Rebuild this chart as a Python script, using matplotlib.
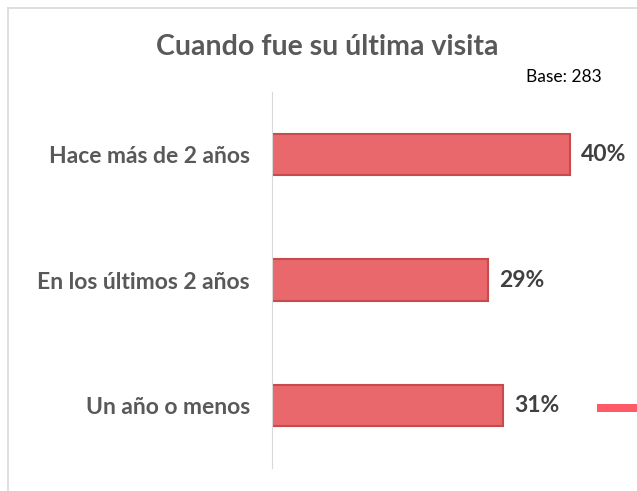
import matplotlib
matplotlib.use('Agg')
from matplotlib import pyplot as plt
from matplotlib.patches import Rectangle
from matplotlib.lines import Line2D

categories = ['Hace más de 2 años', 'En los últimos 2 años', 'Un año o menos']
values = [40, 29, 31]
value_labels = ['40%', '29%', '31%']
title = 'Cuando fue su última visita'
base_note = 'Base: 283'

plt.rcParams['font.family'] = ['Lato', 'DejaVu Sans']

fig = plt.figure(figsize=(6.37, 4.91), dpi=100)
W, H = 637, 491

# chart frame (light gray border, clipped at right/bottom)
fig.add_artist(Line2D([8 / W, 8 / W], [0, 1 - 8 / H], transform=fig.transFigure,
                      color='#d9d9d9', lw=1.2))
fig.add_artist(Line2D([8 / W, 1], [1 - 8 / H, 1 - 8 / H], transform=fig.transFigure,
                      color='#d9d9d9', lw=1.2))

ax = fig.add_axes([272 / W, (H - 468) / H, (W - 272) / W, 376 / H])
ypos = list(range(len(categories)))
ax.barh(ypos, values, height=0.33, color='#e8686b', edgecolor='#c94a4d', linewidth=1.5)
ax.set_xlim(0, 49)
ax.set_ylim(len(categories) - 0.5, -0.5)
ax.set_yticks(ypos)
ax.set_yticklabels(categories, fontsize=16.5, fontweight='bold', color='#595959')
ax.tick_params(axis='y', length=0, pad=16)
ax.set_xticks([])
for s in ['top', 'right', 'bottom']:
    ax.spines[s].set_visible(False)
ax.spines['left'].set_color('#d9d9d9')
ax.set_facecolor('none')

for y, v, lab in zip(ypos, values, value_labels):
    ax.text(v + 1.5, y, lab, va='center', ha='left', fontsize=16.5,
            fontweight='bold', color='#404040')

fig.text(327 / W, 1 - 47 / H, title, ha='center', va='center', fontsize=20.5,
         fontweight='bold', color='#595959')
fig.text(602 / W, 1 - 77 / H, base_note, ha='right', va='center', fontsize=12.5,
         color='#000000')

# cut-off legend swatch at right edge
fig.add_artist(Rectangle((597 / W, 1 - 412 / H), 45 / W, 8 / H, transform=fig.transFigure,
                         color='#ff5a68', lw=0))

fig.savefig('out.png', dpi=100)
